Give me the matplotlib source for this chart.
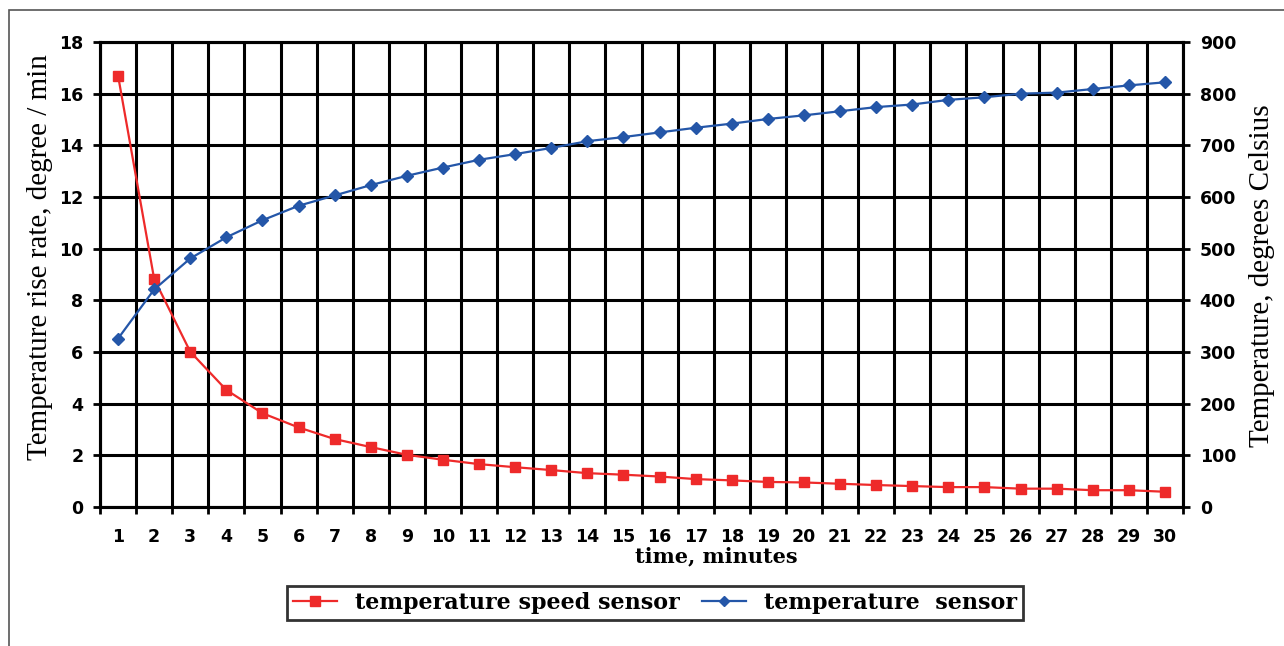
import matplotlib
matplotlib.use("Agg")
import matplotlib.pyplot as plt
from matplotlib.patches import Rectangle
from matplotlib.lines import Line2D

minutes = list(range(1, 31))
rise_rate = [16.7, 8.83, 6.01, 4.53, 3.63, 3.08, 2.63, 2.32, 2.02, 1.83,
             1.66, 1.54, 1.43, 1.31, 1.25, 1.18, 1.08, 1.03, 0.97, 0.95,
             0.90, 0.85, 0.81, 0.77, 0.77, 0.71, 0.71, 0.65, 0.65, 0.59]
temperature = [326, 421, 481, 522, 555, 583, 603, 623, 641, 657,
               672, 683, 695, 708, 716, 725, 734, 742, 751, 758,
               766, 774, 779, 788, 793, 800, 802, 809, 816, 822]
left_ticks = [0, 2, 4, 6, 8, 10, 12, 14, 16, 18]
right_ticks = [0, 100, 200, 300, 400, 500, 600, 700, 800, 900]

RED = "#ee2a2a"
BLUE = "#2456a8"
W, H = 1284, 646

fig = plt.figure(figsize=(12.84, 6.46), dpi=100)
fig.patches.append(Rectangle((9/W, -0.1), 1.2, 1 - 10/H + 0.1,
                             transform=fig.transFigure, fill=False,
                             edgecolor="#555555", linewidth=1.2))

ax = fig.add_axes([100/W, 1 - 507/H, 1083/W, 465/H])
ax2 = ax.twinx()

n = len(minutes)
ax.set_xlim(0.5, n + 0.5)
ax.set_ylim(0, 18)
ax2.set_ylim(0, 900)

# grid
for b in [i + 0.5 for i in range(n + 1)]:
    ax.axvline(b, color="black", linewidth=2.2, zorder=1)
for t in left_ticks:
    ax.axhline(t, color="black", linewidth=2.2, zorder=1)

tick_font = dict(fontfamily="DejaVu Sans", fontweight="bold", fontsize=12.5)

ax.set_xticks([i + 0.5 for i in range(n + 1)])
ax.set_xticklabels([])
ax.set_xticks(minutes, minor=True)
ax.set_xticklabels([str(m) for m in minutes], minor=True, **tick_font)
ax.tick_params(axis="x", which="major", length=5, width=2, direction="out")
ax.tick_params(axis="x", which="minor", length=0, pad=15)

ax.set_yticks(left_ticks)
ax.set_yticklabels([str(t) for t in left_ticks], **tick_font)
ax.tick_params(axis="y", length=5, width=2, direction="out", pad=7)
ax2.set_yticks(right_ticks)
ax2.set_yticklabels([str(t) for t in right_ticks], **tick_font)
ax2.tick_params(axis="y", length=5, width=2, direction="out", pad=7)

for a in (ax, ax2):
    for s in a.spines.values():
        s.set_linewidth(2.2)
        s.set_color("black")

ax.plot(minutes, rise_rate, color=RED, linewidth=1.6, marker="s",
        markersize=7.5, zorder=3, clip_on=False)
ax2.plot(minutes, temperature, color=BLUE, linewidth=1.6, marker="D",
         markersize=6.5, zorder=3, clip_on=False)

fig.text(40/W, 1 - 257/H, "Temperature rise rate, degree / min",
         rotation=90, ha="center", va="center",
         fontfamily="Liberation Serif", fontsize=21)
fig.text(1262/W, 1 - 276/H, "Temperature, degrees Celsius",
         rotation=90, ha="center", va="center",
         fontfamily="Liberation Serif", fontsize=21)
fig.text(716/W, 1 - 556/H, "time, minutes", ha="center", va="center",
         fontfamily="DejaVu Serif", fontweight="bold", fontsize=15)

handles = [Line2D([], [], color=RED, marker="s", markersize=7, linewidth=1.6),
           Line2D([], [], color=BLUE, marker="D", markersize=5, linewidth=1.6)]
leg = fig.legend(handles, ["temperature speed sensor", "temperature  sensor"],
                 loc="center", bbox_to_anchor=(655/W, 1 - 603/H), ncol=2,
                 frameon=True, fancybox=False, handlelength=2.0,
                 columnspacing=1.0, handletextpad=0.8, borderpad=0.25,
                 borderaxespad=0,
                 prop={"family": "DejaVu Serif", "weight": "bold", "size": 16})
leg.get_frame().set_edgecolor("black")
leg.get_frame().set_linewidth(2)

fig.savefig("out.png", dpi=100)
